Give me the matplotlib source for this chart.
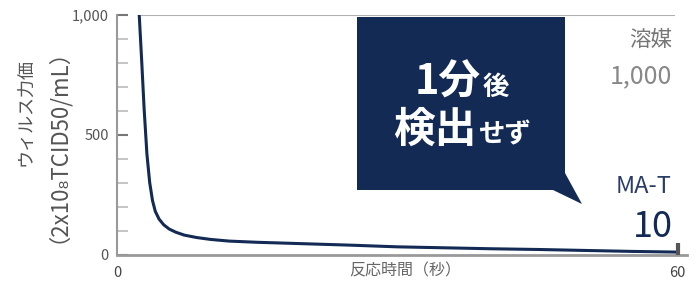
import matplotlib
matplotlib.use('Agg')
import matplotlib.pyplot as plt
from matplotlib.patches import Polygon

plt.rcParams['font.family'] = ['Noto Sans CJK JP', 'DejaVu Sans']

# 反応時間(秒) と ウィルス力価
time = [2.38, 2.64, 2.9, 3.2, 3.5, 3.8, 4.1, 4.5, 5.0, 5.6, 6.3, 7.2, 8.5,
        10, 12, 15, 20, 25, 30, 35, 40, 45, 50, 55, 60]
titer = [1000, 810, 610, 420, 300, 225, 180, 148, 124, 106, 93, 81, 71,
         63, 56, 51, 45, 39, 32, 28, 24, 21, 17, 13, 10]

yticks = [0, 500, 1000]
ytick_labels = ['0', '500', '1,000']
xticks = [0, 60]
xtick_labels = ['0', '60']
xlabel = '反応時間（秒）'
ylabel_1 = 'ウィルス力価'
ylabel_2 = '（2x10₈TCID50/mL）'
solvent_label = '溶媒'
solvent_value = '1,000'
mat_label = 'MA-T'
mat_value = '10'
box_lines = [['1分', '後'], ['検出', 'せず']]

W, H = 700, 284
navy = '#132a55'

fig = plt.figure(figsize=(7, 2.84), dpi=100)
ax = fig.add_axes([117 / W, 1 - 254.5 / H, 570 / W, 239.5 / H])

ax.plot(time, titer, color=navy, lw=2.2, solid_joinstyle='round', zorder=3)
# 上端のライン と 60秒の目印
ax.hlines(1000, time[0] + 0.2, 59.7, color='#b0b0b0', lw=1.5, zorder=1)
ax.vlines(xticks[-1], 0, 50, color='#555555', lw=3, zorder=4)

ax.set_xlim(0, 61)
ax.set_ylim(0, 1000)
for s in ['top', 'right']:
    ax.spines[s].set_visible(False)
ax.spines['left'].set_color('#999999')
ax.spines['left'].set_linewidth(1.5)
ax.spines['bottom'].set_color('#999999')
ax.spines['bottom'].set_linewidth(2)

ax.set_yticks(yticks)
ax.set_yticklabels(ytick_labels)
ax.set_yticks(range(0, 1001, 100), minor=True)
ax.tick_params(axis='y', which='major', direction='in', length=8, width=1.5,
               color='#777777', labelsize=10.5, labelcolor='#555555', pad=6)
ax.tick_params(axis='y', which='minor', direction='in', length=8, width=1.3,
               color='#c0c0c0')
ax.set_xticks(xticks)
ax.set_xticklabels(xtick_labels)
ax.tick_params(axis='x', length=0, labelsize=10.5, labelcolor='#444444', pad=8)

ax.text(0.505, -0.069, xlabel, transform=ax.transAxes, ha='center',
        va='center', fontsize=11.5, color='#666666')

fig.text(25 / W, 1 - 112 / H, ylabel_1, rotation=90, ha='center',
         va='center', fontsize=13, color='#555555')
fig.text(46 / W, 1 - 135 / H, ylabel_2, rotation=90, ha='center',
         va='center', fontsize=16, color='#555555')

# 右側のラベル
fig.text(672 / W, 1 - 46 / H, solvent_label, ha='right', va='baseline',
         fontsize=15.5, color='#777777')
fig.text(672 / W, 1 - 83 / H, solvent_value, ha='right', va='baseline',
         fontsize=18, color='#888888')
fig.text(672 / W, 1 - 193 / H, mat_label, ha='right', va='baseline',
         fontsize=17, color='#2a3d66')
fig.text(673 / W, 1 - 237 / H, mat_value, ha='right', va='baseline',
         fontsize=26, color=navy)

# 吹き出し
pts = [(357, 17), (565, 17), (565, 173), (582, 204), (553, 190), (357, 190)]
box = Polygon([(x / W, 1 - y / H) for x, y in pts], closed=True,
              facecolor=navy, edgecolor='none', transform=fig.transFigure,
              zorder=5)
fig.add_artist(box)

fig.canvas.draw()
renderer = fig.canvas.get_renderer()
for (big, small), base in zip(box_lines, [95, 142]):
    t1 = fig.text(0, 1 - base / H, big, fontsize=30, fontweight='bold',
                  color='white', va='baseline', zorder=6)
    t2 = fig.text(0, 1 - base / H, small, fontsize=19, fontweight='bold',
                  color='white', va='baseline', zorder=6)
    w1 = t1.get_window_extent(renderer).width
    w2 = t2.get_window_extent(renderer).width
    x0 = 462 - (w1 + w2 + 2) / 2
    t1.set_x(x0 / W)
    t2.set_x((x0 + w1 + 2) / W)

fig.savefig('out.png', dpi=100)
